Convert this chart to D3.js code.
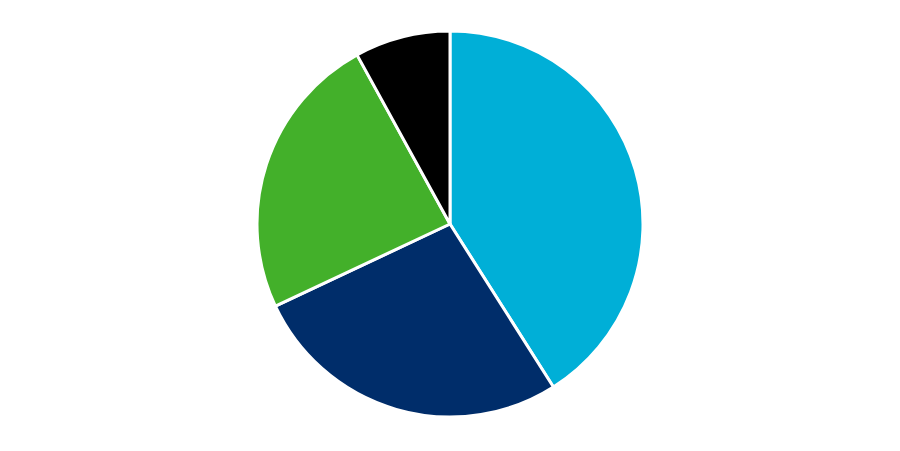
<!DOCTYPE html>
<html>
<head>
<meta charset="utf-8">
<script src="https://cdn.jsdelivr.net/npm/d3@7"></script>
<style>
  html, body { margin: 0; padding: 0; background: #ffffff; }
</style>
</head>
<body>
<svg id="chart" width="900" height="451"></svg>
<script>
// slice values, clockwise from 12 o'clock
const categories = ["Segment A", "Segment B", "Segment C", "Segment D"];
const values = [41, 27, 24, 8];
const colors = ["#00afd7", "#002d6a", "#43b02a", "#000000"];

const width = 900;
const height = 451;
const radius = 193;

const svg = d3.select("#chart");
const g = svg.append("g").attr("transform", `translate(${width / 2},${224})`);

const data = categories.map((c, i) => ({ name: c, value: values[i] }));

const pie = d3.pie().sort(null).value((d) => d.value);
const arc = d3.arc().innerRadius(0).outerRadius(radius);
const color = d3.scaleOrdinal().domain(categories).range(colors);

g.selectAll("path")
  .data(pie(data))
  .enter()
  .append("path")
  .attr("d", arc)
  .attr("fill", (d) => color(d.data.name))
  .attr("stroke", "#ffffff")
  .attr("stroke-width", 3)
  .attr("stroke-linejoin", "round");
</script>
</body>
</html>
